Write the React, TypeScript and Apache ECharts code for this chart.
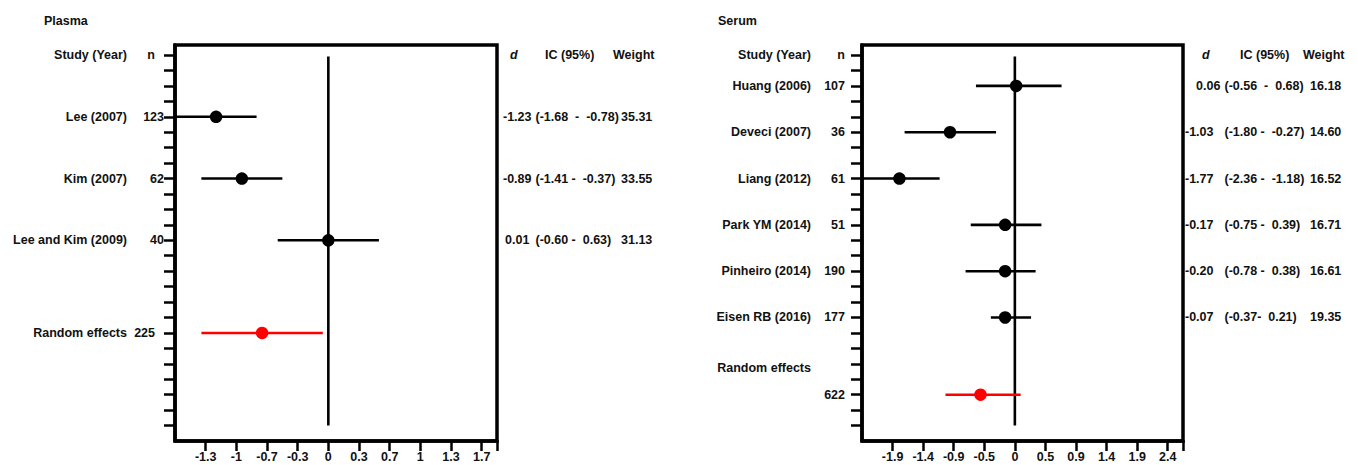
import { useEffect, useRef } from "react";
import * as echarts from "echarts";

const FONT = "'Liberation Sans', Arial, Helvetica, sans-serif";
const FS = 12.5;
const INK = "#111111";
const RED = "#ff0000";

// ---------- Plasma ----------
const plasmaStudies = ["Lee (2007)", "Kim (2007)", "Lee and Kim (2009)"];
const plasmaN = ["123", "62", "40"];
const plasmaD = ["-1.23", "-0.89", "0.01"];
const plasmaCI = [" (-1.68  -  -0.78)", " (-1.41 -  -0.37)", " (-0.60 -  0.63)"];
const plasmaWeight = ["35.31", "33.55", "31.13"];
// positions of the drawn marks
const plasmaEst = [-1.22, -0.94, 0.0];
const plasmaLow = [-1.68, -1.38, -0.55];
const plasmaHigh = [-0.78, -0.5, 0.55];
const plasmaRandomN = "225";
const plasmaRandomEst = [-0.72];
const plasmaRandomLow = [-1.38];
const plasmaRandomHigh = [-0.06];
const plasmaTickLabels = ["-1.3", "-1", "-0.7", "-0.3", "0", "0.3", "0.7", "1", "1.3", "1.7"];
const plasmaStep = 1 / 3;

// ---------- Serum ----------
const serumStudies = ["Huang (2006)", "Deveci (2007)", "Liang (2012)", "Park YM (2014)", "Pinheiro (2014)", "Eisen RB (2016)"];
const serumN = ["107", "36", "61", "51", "190", "177"];
const serumD = ["0.06", "-1.03", "-1.77", "-0.17", "-0.20", "-0.07"];
const serumCI = [" (-0.56  -  0.68)", " (-1.80 -  -0.27)", " (-2.36 -  -1.18)", " (-0.75 -  0.39)", " (-0.78 -  0.38)", " (-0.37-  0.21)"];
const serumWeight = ["16.18", "14.60", "16.52", "16.71", "16.61", "19.35"];
const serumEst = [0.02, -1.0, -1.78, -0.15, -0.15, -0.15];
const serumLow = [-0.6, -1.7, -2.36, -0.68, -0.76, -0.37];
const serumHigh = [0.72, -0.29, -1.16, 0.41, 0.32, 0.25];
const serumRandomN = "622";
const serumRandomEst = [-0.53];
const serumRandomLow = [-1.07];
const serumRandomHigh = [0.09];
const serumTickLabels = ["-1.9", "-1.4", "-0.9", "-0.5", "0", "0.5", "0.9", "1.4", "1.9", "2.4"];
const serumStep = Math.SQRT2 / 3;

// ---------- layout ----------
const Y_MIN = -0.65;
const Y_MAX = 25;
const minorTicks = Array.from({ length: 25 }, (_, i) => i);
const plasmaRows = [4, 8, 12];
const plasmaRandomRow = 18;
const serumRows = [2, 5, 8, 11, 14, 17];
const serumRandomRow = 22;
const serumRandomNameRow = 20.25;

const tok = (extra: any = {}) => ({
  fontFamily: FONT,
  fontSize: FS,
  fontWeight: "bold",
  color: INK,
  ...extra,
});

function panel(p: any) {
  const gi = p.gridIndex;
  const yBase = gi * 3;
  const tickVals = p.tickLabels.map((_: string, i: number) => (i - 4) * p.step);
  const xMin = -5 * p.step;
  const xMax = 5.5 * p.step;

  const nRows = [0, ...p.rows, p.randomRow];
  const nTexts = ["n", ...p.n, p.randomN];
  const nameRows = [0, ...p.rows, p.randomNameRow];
  const nameTexts = ["Study (Year)", ...p.studies, "Random effects"];
  const textRows = [0, ...p.rows];

  const xAxis = {
    type: "value",
    gridIndex: gi,
    min: xMin,
    max: xMax,
    position: "bottom",
    axisLine: { show: true, onZero: false, lineStyle: { color: "#000", width: 3.5 } },
    axisTick: {
      show: true,
      inside: false,
      length: 10,
      lineStyle: { color: "#000", width: 2.5 },
      customValues: [...tickVals, xMax],
    },
    axisLabel: {
      show: true,
      margin: 9,
      customValues: tickVals,
      formatter: (v: number) => {
        const k = Math.round(v / p.step) + 4;
        return p.tickLabels[k] ?? "";
      },
      ...tok(),
    },
    splitLine: { show: false },
  };

  const yMain = {
    type: "value",
    gridIndex: gi,
    inverse: true,
    min: Y_MIN,
    max: Y_MAX,
    position: "left",
    axisLine: { show: true, onZero: false, lineStyle: { color: "#000", width: 3.5 } },
    axisTick: {
      show: true,
      inside: false,
      length: 11,
      lineStyle: { color: "#000", width: 2.5 },
      customValues: minorTicks,
    },
    axisLabel: {
      show: true,
      margin: p.nMargin,
      customValues: nRows,
      formatter: (v: number) => {
        const i = nRows.indexOf(v);
        if (i < 0) return "";
        const pad = (i === 0 || i === nRows.length - 1) ? p.nPadEnds : 0;
        return pad ? `{p|${nTexts[i]}}` : `{q|${nTexts[i]}}`;
      },
      rich: {
        p: tok({ padding: [0, p.nPadEnds, 0, 0] }),
        q: tok(),
      },
      ...tok(),
    },
    splitLine: { show: false },
  };

  const yNames = {
    type: "value",
    gridIndex: gi,
    inverse: true,
    min: Y_MIN,
    max: Y_MAX,
    position: "left",
    axisLine: { show: false, onZero: false },
    axisTick: { show: false },
    axisLabel: {
      show: true,
      margin: p.nameMargin,
      customValues: nameRows,
      formatter: (v: number) => {
        const i = nameRows.indexOf(v);
        return i < 0 ? "" : nameTexts[i];
      },
      ...tok(),
    },
    splitLine: { show: false },
  };

  const yText = {
    type: "value",
    gridIndex: gi,
    inverse: true,
    min: Y_MIN,
    max: Y_MAX,
    position: "right",
    axisLine: { show: false, onZero: false },
    axisTick: { show: false },
    axisLabel: {
      show: true,
      margin: p.textMargin,
      customValues: textRows,
      formatter: (v: number) => {
        const i = textRows.indexOf(v);
        if (i < 0) return "";
        if (i === 0) return "{hd|d}{hic|IC (95%)}{hw|Weight}";
        const dv = p.d[i - 1];
        const dStyle = dv.charAt(0) === "-" ? "d" : "dp";
        return `{${dStyle}|${dv}}{ic|${p.ci[i - 1]}}{w|${p.w[i - 1]}}`;
      },
      rich: {
        hd: tok({ fontStyle: "italic", width: p.hdW, padding: [0, 0, 0, p.hdPad] }),
        hic: tok({ width: p.hicW }),
        hw: tok(),
        d: tok({ width: p.dW }),
        dp: tok({ width: p.dW - p.posPad, padding: [0, 0, 0, p.posPad] }),
        ic: tok({ width: p.icW }),
        w: tok(),
      },
      ...tok(),
    },
    splitLine: { show: false },
  };

  const ciRender = (color: string) => (params: any, api: any) => {
    const a = api.coord([api.value(0), api.value(2)]);
    const b = api.coord([api.value(1), api.value(2)]);
    return {
      type: "line",
      shape: { x1: a[0], y1: a[1], x2: b[0], y2: b[1] },
      style: { stroke: color, lineWidth: 2.6 },
    };
  };

  const series: any[] = [
    {
      type: "line",
      xAxisIndex: gi,
      yAxisIndex: yBase,
      data: [[0, 0.1], [0, 24]],
      symbol: "none",
      lineStyle: { color: "#000", width: 2.6 },
      silent: true,
      z: 1,
    },
    {
      type: "custom",
      xAxisIndex: gi,
      yAxisIndex: yBase,
      clip: true,
      silent: true,
      z: 2,
      encode: { x: [0, 1], y: 2 },
      data: p.low.map((l: number, i: number) => [l, p.high[i], p.rows[i]]),
      renderItem: ciRender("#000"),
    },
    {
      type: "custom",
      xAxisIndex: gi,
      yAxisIndex: yBase,
      clip: true,
      silent: true,
      z: 2,
      encode: { x: [0, 1], y: 2 },
      data: p.rLow.map((l: number, i: number) => [l, p.rHigh[i], p.randomRow]),
      renderItem: ciRender(RED),
    },
    {
      type: "scatter",
      xAxisIndex: gi,
      yAxisIndex: yBase,
      symbol: "circle",
      symbolSize: 12.5,
      itemStyle: { color: "#000", opacity: 1 },
      silent: true,
      z: 3,
      data: p.est.map((e: number, i: number) => [e, p.rows[i]]),
    },
    {
      type: "scatter",
      xAxisIndex: gi,
      yAxisIndex: yBase,
      symbol: "circle",
      symbolSize: 12.5,
      itemStyle: { color: RED, opacity: 1 },
      silent: true,
      z: 3,
      data: p.rEst.map((e: number) => [e, p.randomRow]),
    },
  ];

  return { xAxis, yAxes: [yMain, yNames, yText], series };
}

export default function App() {
  const ref = useRef<HTMLDivElement>(null);

  useEffect(() => {
    if (!ref.current) return;
    const chart = echarts.init(ref.current, undefined, { renderer: "svg" });

    const left = panel({
      gridIndex: 0,
      step: plasmaStep,
      tickLabels: plasmaTickLabels,
      rows: plasmaRows,
      randomRow: plasmaRandomRow,
      randomNameRow: plasmaRandomRow,
      studies: plasmaStudies,
      n: plasmaN,
      randomN: plasmaRandomN,
      d: plasmaD,
      ci: plasmaCI,
      w: plasmaWeight,
      est: plasmaEst,
      low: plasmaLow,
      high: plasmaHigh,
      rEst: plasmaRandomEst,
      rLow: plasmaRandomLow,
      rHigh: plasmaRandomHigh,
      nMargin: 11,
      nPadEnds: 9,
      nameMargin: 48,
      textMargin: 6,
      hdPad: 7,
      hdW: 35,
      hicW: 68,
      dW: 29,
      posPad: 2,
      icW: 89,
    });

    const right = panel({
      gridIndex: 1,
      step: serumStep,
      tickLabels: serumTickLabels,
      rows: serumRows,
      randomRow: serumRandomRow,
      randomNameRow: serumRandomNameRow,
      studies: serumStudies,
      n: serumN,
      randomN: serumRandomN,
      d: serumD,
      ci: serumCI,
      w: serumWeight,
      est: serumEst,
      low: serumLow,
      high: serumHigh,
      rEst: serumRandomEst,
      rLow: serumRandomLow,
      rHigh: serumRandomHigh,
      nMargin: 17,
      nPadEnds: 0,
      nameMargin: 51,
      textMargin: 2,
      hdPad: 17,
      hdW: 38,
      hicW: 63,
      dW: 36,
      posPad: 11,
      icW: 89,
    });

    chart.setOption({
      animation: false,
      backgroundColor: "#ffffff",
      title: [
        { text: "Plasma", left: 39, top: 9, textStyle: tok() },
        { text: "Serum", left: 713, top: 9, textStyle: tok() },
      ],
      grid: [
        {
          left: 175, top: 45, width: 322, height: 396,
          show: true, borderColor: "#000", borderWidth: 3.5, backgroundColor: "transparent",
          containLabel: false, outerBoundsMode: "none",
        },
        {
          left: 862, top: 45, width: 321, height: 396,
          show: true, borderColor: "#000", borderWidth: 3.5, backgroundColor: "transparent",
          containLabel: false, outerBoundsMode: "none",
        },
      ],
      xAxis: [left.xAxis, right.xAxis],
      yAxis: [...left.yAxes, ...right.yAxes],
      series: [...left.series, ...right.series],
    });

    return () => chart.dispose();
  }, []);

  return (
    <div
      ref={ref}
      style={{ position: "absolute", left: 0, top: 0, width: 1358, height: 465, background: "#fff" }}
    />
  );
}
